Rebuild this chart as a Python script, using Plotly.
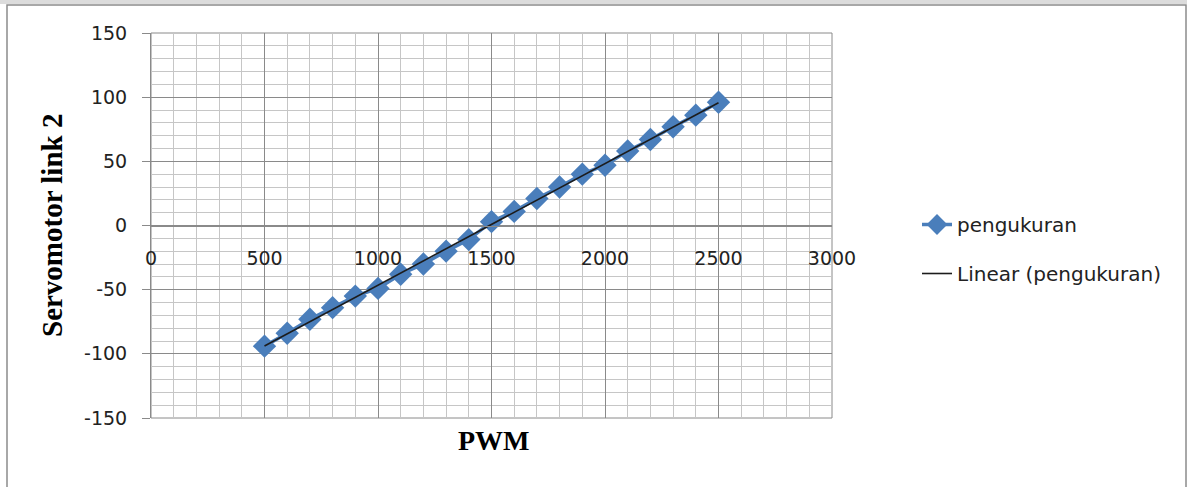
import numpy as np
import plotly.graph_objects as go

# Measured servo angle (link 2) against PWM input
pwm = [500, 600, 700, 800, 900, 1000, 1100, 1200, 1300, 1400, 1500,
       1600, 1700, 1800, 1900, 2000, 2100, 2200, 2300, 2400, 2500]
sudut = [-94, -84, -73, -64, -55, -49, -38, -30, -20, -11, 3,
         11, 21, 30, 40, 47, 58, 67, 77, 86, 96]

x_ticks = [0, 500, 1000, 1500, 2000, 2500, 3000]
y_ticks = [-150, -100, -50, 0, 50, 100, 150]

# Least-squares trend line over the measured range
slope, intercept = np.polyfit(pwm, sudut, 1)
trend_x = [min(pwm), max(pwm)]
trend_y = [slope * v + intercept for v in trend_x]

W, H = 1187, 487
L, R, T, B = 151, 832, 33, 418


def fx(p):
    return (p - L) / (R - L)


def fy(p):
    return (B - p) / (B - T)


BLUE = "#4a7ebb"
MAJOR = "#8a8a8a"
MINOR = "#c6c6c6"
TICKFONT = dict(family="DejaVu Sans", size=19, color="#222222")

fig = go.Figure()
fig.add_trace(go.Scatter(
    x=pwm, y=sudut, mode="lines+markers", name="pengukuran",
    line=dict(color=BLUE, width=3.5),
    marker=dict(symbol="diamond", size=18, color=BLUE),
    legendgroup="a",
))
fig.add_trace(go.Scatter(
    x=trend_x, y=trend_y, mode="lines", name="Linear (pengukuran)",
    line=dict(color="#1c1c1c", width=1.6),
    legendgroup="b",
))

fig.update_layout(
    width=W, height=H,
    margin=dict(l=L, r=W - R, t=T, b=H - B),
    paper_bgcolor="white",
    plot_bgcolor="rgba(0,0,0,0)",
    showlegend=True,
    legend=dict(
        x=fx(917), y=fy(205), xanchor="left", yanchor="top",
        font=dict(family="DejaVu Sans", size=20, color="#222222"),
        traceorder="grouped", tracegroupgap=20,
        bgcolor="rgba(0,0,0,0)",
    ),
    xaxis=dict(
        range=[0, 3000], tickvals=x_ticks, ticktext=[str(v) for v in x_ticks],
        anchor="free", position=0.5,
        showline=True, linecolor=MAJOR, linewidth=1,
        ticks="", ticklabelstandoff=16,
        showgrid=True, gridcolor=MAJOR, gridwidth=1,
        minor=dict(dtick=100, showgrid=True, gridcolor=MINOR, gridwidth=1),
        zeroline=False, tickfont=TICKFONT,
    ),
    yaxis=dict(
        range=[-150, 150], tickvals=y_ticks, ticktext=[str(v) for v in y_ticks],
        showline=True, linecolor=MAJOR, linewidth=1,
        ticks="outside", ticklen=8, tickcolor=MAJOR,
        ticklabelstandoff=11,
        showgrid=True, gridcolor=MAJOR, gridwidth=1,
        minor=dict(dtick=10, showgrid=True, gridcolor=MINOR, gridwidth=1),
        zeroline=False, tickfont=TICKFONT,
    ),
    shapes=[
        # chart frame
        dict(type="rect", xref="paper", yref="paper",
             x0=fx(7), x1=fx(1186), y0=fy(495), y1=fy(5),
             line=dict(color="#8c8c8c", width=1.5), fillcolor="white",
             layer="below"),
        dict(type="rect", xref="paper", yref="paper",
             x0=fx(-5), x1=fx(1195), y0=fy(4), y1=fy(-5),
             line=dict(width=0), fillcolor="#dcdcdc", layer="below"),
        # plot-area border
        dict(type="rect", xref="paper", yref="paper",
             x0=0, x1=1, y0=0, y1=1,
             line=dict(color=MAJOR, width=1), layer="below"),
    ],
    annotations=[
        dict(text="<b>PWM</b>", xref="paper", yref="paper",
             x=fx(494), y=fy(441), xanchor="center", yanchor="middle",
             showarrow=False,
             font=dict(family="Liberation Serif", size=28, color="black")),
        dict(text="<b>Servomotor link 2</b>", xref="paper", yref="paper",
             x=fx(52), y=fy(226), xanchor="center", yanchor="middle",
             textangle=-90, showarrow=False,
             font=dict(family="Liberation Serif", size=29, color="black")),
    ],
)

fig.write_html("out.html")
